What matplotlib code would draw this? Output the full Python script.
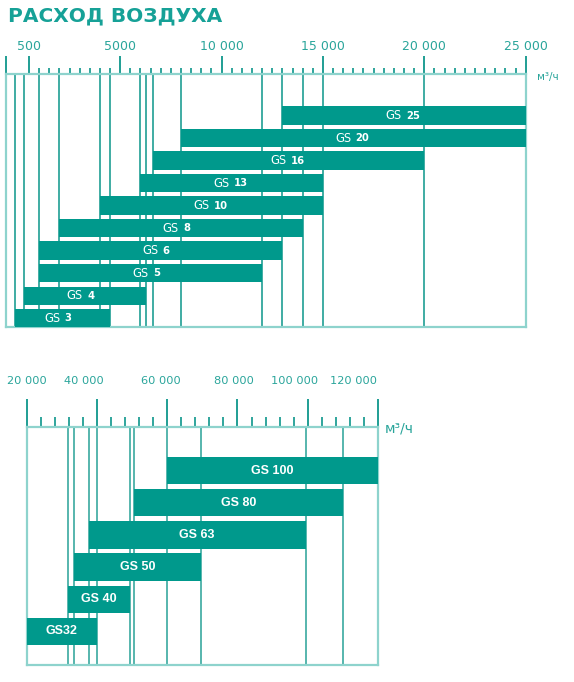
import numpy as np
import matplotlib
matplotlib.use("Agg")
import matplotlib.pyplot as plt
from matplotlib.ticker import FixedLocator, NullFormatter, FixedFormatter

# top chart: GS 3 ... GS 25, m3/h
top_models = ["3", "4", "5", "6", "8", "10", "13", "16", "20", "25"]
top_min = [200, 400, 1000, 1000, 2000, 4000, 6000, 6600, 8000, 13000]
top_max = [4500, 6250, 12000, 13000, 14000, 15000, 15000, 20000, 25000, 25000]
top_major = [0, 500, 5000, 10000, 15000, 20000, 25000]
top_major_labels = ["", "500", "5000", "10 000", "15 000", "20 000", "25 000"]
top_minor = [v for v in range(1000, 25000, 500) if v % 5000 != 0]

# bottom chart: GS32 ... GS 100, m3/h
bot_models = ["GS32", "GS 40", "GS 50", "GS 63", "GS 80", "GS 100"]
bot_min = [20000, 31700, 33500, 37600, 50600, 60000]
bot_max = [40000, 49500, 69500, 99400, 110000, 120000]
bot_major = [20000, 40000, 60000, 80000, 100000, 120000]
bot_major_labels = ["20 000", "40 000", "60 000", "80 000", "100 000", "120 000"]
bot_label_pos = [20000, 36400, 58200, 79100, 96300, 113100]
bot_minor = [v for v in range(24000, 120000, 4000) if v % 20000 != 0]

BAR = "#00998c"
LINE = "#1f9e94"
FRAME = "#8ed3cd"
TXT = "#2aa59b"


# the first 500 m3/h are stretched on the original scale
def fwd(v):
    v = np.asarray(v, dtype=float)
    return np.where(v < 500, 500 - (500 - v) * 2.3, v)


def inv(u):
    u = np.asarray(u, dtype=float)
    return np.where(u < 500, 500 - (500 - u) / 2.3, u)


fig = plt.figure(figsize=(5.74, 6.82), dpi=100)
fig.text(0.014, 0.977, "РАСХОД ВОЗДУХА", color="#16a197", fontsize=14.5,
         fontweight="bold", ha="left", va="center")


def style_axes(ax, major, minor, maj_len, min_len):
    ax.xaxis.tick_top()
    ax.xaxis.set_major_locator(FixedLocator(major))
    ax.xaxis.set_minor_locator(FixedLocator(minor))
    ax.tick_params(axis="x", which="major", direction="out", length=maj_len,
                   width=1.4, color=LINE, labelcolor=TXT)
    ax.tick_params(axis="x", which="minor", direction="out", length=min_len,
                   width=1.3, color=LINE)
    ax.tick_params(axis="y", left=False, labelleft=False)
    for s in ax.spines.values():
        s.set_color(FRAME)
        s.set_linewidth(1.6)


# ---- top chart
ax1 = fig.add_axes([0.0099, 0.5201, 0.9059, 0.371])
ax1.set_xscale("function", functions=(fwd, inv))
ax1.set_xlim(0, 25000)
ax1.set_ylim(-0.40, 10.83)
y1 = np.arange(len(top_models))
edges = sorted(set(top_min + top_max))
ax1.vlines(edges, -0.40, 10.83, color=LINE, lw=1.2, zorder=2)
ax1.barh(y1, np.array(top_max) - np.array(top_min), left=top_min,
         height=0.82, color=BAR, zorder=3)
style_axes(ax1, top_major, top_minor, 13, 4.3)
ax1.xaxis.set_major_formatter(FixedFormatter(top_major_labels))
ax1.tick_params(axis="x", which="major", labelsize=9, pad=2.5)
for yy, a, b, m in zip(y1, top_min, top_max, top_models):
    cx = float(inv((fwd(a) + fwd(b)) / 2))
    ax1.annotate("GS", (cx, yy), xytext=(-1.5, 0), textcoords="offset points",
                 ha="right", va="center", color="white", fontsize=8.3, zorder=4)
    ax1.annotate(m, (cx, yy), xytext=(1.5, 0), textcoords="offset points",
                 ha="left", va="center", color="white", fontsize=7.2,
                 fontweight="bold", zorder=4)
ax1.text(1.021, 0.99, "м³/ч", transform=ax1.transAxes, color=TXT,
         fontsize=7.5, ha="left", va="center")

# ---- bottom chart
ax2 = fig.add_axes([0.0465, 0.0249, 0.612, 0.3494])
ax2.set_xlim(20000, 120000)
ax2.set_ylim(-1.05, 6.37)
y2 = np.arange(len(bot_models))
edges2 = sorted(set(bot_min + bot_max))
ax2.vlines(edges2, -1.05, 6.37, color="#3aa9a0", lw=1.2, zorder=2)
ax2.barh(y2, np.array(bot_max) - np.array(bot_min), left=bot_min,
         height=0.85, color=BAR, zorder=3)
style_axes(ax2, bot_major, bot_minor, 20, 7)
ax2.xaxis.set_major_formatter(NullFormatter())
for pos, lab in zip(bot_label_pos, bot_major_labels):
    ax2.text(pos, 1.192, lab, transform=ax2.get_xaxis_transform(), color=TXT,
             fontsize=8.2, ha="center", va="center")
for yy, a, b, m in zip(y2, bot_min, bot_max, bot_models):
    ax2.text((a + b) / 2, yy, m, ha="center", va="center", color="white",
             fontsize=9, fontweight="bold", family="Liberation Sans", zorder=4)
ax2.text(1.02, 0.993, "м³/ч", transform=ax2.transAxes, color=TXT,
         fontsize=10, ha="left", va="center")

fig.savefig("out.png", dpi=100)
